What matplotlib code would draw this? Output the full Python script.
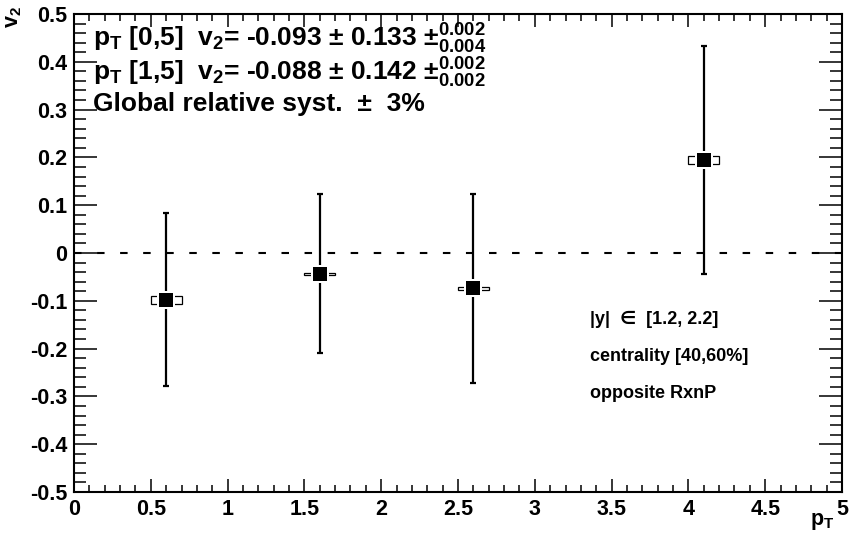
import matplotlib
matplotlib.use("Agg")
import matplotlib.pyplot as plt
from matplotlib.patches import Rectangle
from matplotlib.ticker import MultipleLocator, FixedLocator, FixedFormatter

plt.rcParams['font.family'] = ['Liberation Sans', 'DejaVu Sans']
plt.rcParams['font.weight'] = 'bold'
plt.rcParams['mathtext.fontset'] = 'custom'
plt.rcParams['mathtext.rm'] = 'Liberation Sans:bold'
plt.rcParams['mathtext.it'] = 'Liberation Sans:bold'
plt.rcParams['mathtext.bf'] = 'Liberation Sans:bold'
plt.rcParams['mathtext.sf'] = 'Liberation Sans:bold'
plt.rcParams['mathtext.fallback'] = 'cm'
plt.rcParams['lines.scale_dashes'] = False

# data
pt = [0.6, 1.6, 2.6, 4.1]
v2 = [-0.098, -0.043, -0.074, 0.195]
stat_up = [0.181, 0.166, 0.197, 0.239]
stat_dn = [0.180, 0.166, 0.197, 0.239]
sys_half = [0.008, 0.002, 0.003, 0.008]
box_halfwidth = 0.1
xticks = [0, 0.5, 1, 1.5, 2, 2.5, 3, 3.5, 4, 4.5, 5]
xticklabels = ['0', '0.5', '1', '1.5', '2', '2.5', '3', '3.5', '4', '4.5', '5']
yticks = [-0.5, -0.4, -0.3, -0.2, -0.1, 0, 0.1, 0.2, 0.3, 0.4, 0.5]
yticklabels = ['-0.5', '-0.4', '-0.3', '-0.2', '-0.1', '0', '0.1', '0.2', '0.3', '0.4', '0.5']

fig = plt.figure(figsize=(8.51, 5.38), dpi=100)
ax = fig.add_axes([74/851, 46/538, 768/851, 478/538])
ax.set_xlim(0, 5)
ax.set_ylim(-0.5, 0.5)

# zero line
ax.plot([0, 5], [0, 0], color='black', lw=1.5, dashes=(5.4, 11.2), zorder=1)

# systematic boxes
for x, y, s in zip(pt, v2, sys_half):
    ax.add_patch(Rectangle((x - box_halfwidth, y - s), 2*box_halfwidth, 2*s,
                           facecolor='white', edgecolor='black', lw=0.9, zorder=2))

# stat error bars
ax.errorbar(pt, v2, yerr=[stat_dn, stat_up], fmt='none', ecolor='black',
            elinewidth=1.6, capsize=2.2, capthick=1.6, zorder=3)
# white halo around marker to mimic ROOT gap
ax.plot(pt, v2, 's', color='white', ms=13.5, mew=0, zorder=4)
ax.plot(pt, v2, 's', color='black', ms=10.0, mew=0, zorder=5)

# axes styling
for sp in ax.spines.values():
    sp.set_linewidth(1.5)
ax.xaxis.set_major_locator(FixedLocator(xticks))
ax.xaxis.set_major_formatter(FixedFormatter(xticklabels))
ax.yaxis.set_major_locator(FixedLocator(yticks))
ax.yaxis.set_major_formatter(FixedFormatter(yticklabels))
ax.xaxis.set_minor_locator(MultipleLocator(0.1))
ax.yaxis.set_minor_locator(MultipleLocator(0.02))
ax.tick_params(which='both', direction='in', top=True, right=True, width=1.1)
ax.tick_params(axis='x', which='major', length=9.5, pad=5, labelsize=15.5)
ax.tick_params(axis='x', which='minor', length=5)
ax.tick_params(axis='y', which='major', length=16.5, pad=5, labelsize=15.5)
ax.tick_params(axis='y', which='minor', length=8.5)
for lab in ax.get_xticklabels() + ax.get_yticklabels():
    lab.set_fontweight('bold')

# axis titles
fig.text(822/851, 1 - 521/538, r'p$_\mathrm{T}$', fontsize=15.5, fontweight='bold',
         ha='center', va='center')
fig.text(14/851, 1 - 6/538, r'v$_\mathrm{2}$', fontsize=15.5, fontweight='bold',
         ha='center', va='top', rotation=90)

# annotations
tkw = dict(fontsize=19, fontweight='bold', ha='left', va='baseline')
fig.text(93/851, 1 - 47/538, r'p$_\mathrm{T}$ [0,5]  v$_\mathrm{2}$= -0.093 ± 0.133 $\pm^{0.002}_{0.004}$', **tkw)
fig.text(93/851, 1 - 81/538, r'p$_\mathrm{T}$ [1,5]  v$_\mathrm{2}$= -0.088 ± 0.142 $\pm^{0.002}_{0.002}$', **tkw)
fig.text(93/851, 1 - 111/538, 'Global relative syst.  ±  3%', **tkw)

rkw = dict(fontsize=13, fontweight='bold', ha='left', va='baseline')
fig.text(590/851, 1 - 324/538, '|y|  ∈  [1.2, 2.2]', **rkw)
fig.text(590/851, 1 - 361/538, 'centrality [40,60%]', **rkw)
fig.text(590/851, 1 - 398/538, 'opposite RxnP', **rkw)

fig.savefig('out.png', dpi=100)
